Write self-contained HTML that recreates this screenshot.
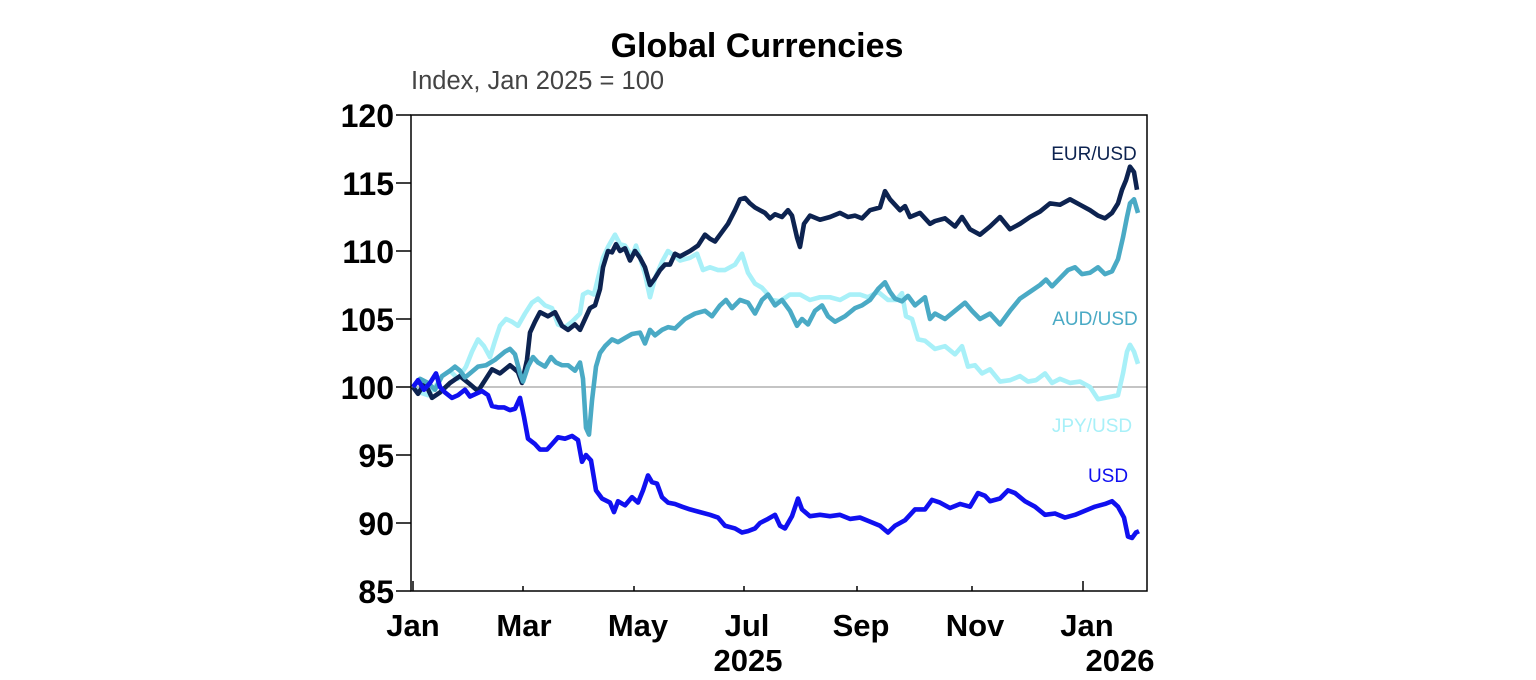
<!DOCTYPE html>
<html><head><meta charset="utf-8"><style>
html,body{margin:0;padding:0;background:#fff;}
svg{display:block;font-family:"Liberation Sans",Arial,sans-serif;}
.yl{font-size:32px;font-weight:bold;text-anchor:end;fill:#000}
.xl{font-size:31px;font-weight:bold;text-anchor:middle;fill:#000}
.s{fill:none;stroke-width:4.6;stroke-linejoin:round;vector-effect:non-scaling-stroke}
</style></head><body>
<svg width="1536" height="680" viewBox="0 0 1536 680">
<text x="757" y="57" font-size="34" font-weight="bold" text-anchor="middle">Global Currencies</text>
<text x="411" y="89" font-size="25.5" fill="#444">Index, Jan 2025 = 100</text>
<line x1="411" y1="387" x2="1147" y2="387" stroke="#888" stroke-width="1"/>
<g transform="matrix(1 0 0 -13.6 0 1747)">
<polyline class="s" stroke="#a8f0f8" points="413,100 420,99.6 428,99.4 435,100 442,100.8 450,101.2 458,100.6 466,101.5 472,102.6 478,103.5 484,103 490,102.2 495,103.4 500,104.5 506,105 512,104.8 518,104.5 525,105.4 532,106.2 538,106.5 545,106 552,105.8 558,104.6 565,104.4 572,104.8 580,105.4 583,106.8 588,107 594,106.8 598,108 603,109.5 608,110.3 615,111.2 620,110.5 625,110.4 632,109.6 636,110.4 640,109.5 645,108.3 650,106.6 655,108 662,109.2 668,110 675,109.6 680,109.3 690,109.5 697,109.8 703,108.6 710,108.8 718,108.6 725,108.6 735,109 742,109.8 748,108.4 755,107.6 762,107.3 768,106.8 772,106.4 780,106.3 790,106.8 800,106.8 810,106.4 820,106.6 830,106.6 840,106.4 850,106.8 860,106.8 868,106.6 878,107 888,106.4 896,106.4 902,106.9 906,105.2 912,105 918,103.5 925,103.4 935,102.8 945,103 955,102.4 962,103 968,101.5 975,101.6 982,101 990,101.3 1000,100.4 1010,100.5 1020,100.8 1028,100.4 1036,100.5 1045,101 1052,100.3 1060,100.6 1070,100.3 1080,100.4 1090,100 1098,99.1 1105,99.2 1112,99.3 1118,99.4 1123,101 1127,102.6 1130,103.1 1134,102.6 1138,101.7"/>
<polyline class="s" stroke="#0d2350" points="413,100 418,99.5 425,100.3 432,99.2 440,99.6 450,100.3 460,100.8 470,100.2 478,99.7 485,100.5 492,101.3 500,101 510,101.6 518,101.1 522,100.3 527,102 530,104 535,104.8 540,105.5 548,105.2 555,105.5 562,104.5 568,104.2 575,104.6 580,104.2 585,105 590,105.8 595,106 600,107.2 603,108.8 608,110 612,109.9 616,110.5 620,110 625,110.2 630,109.3 635,110 640,109.5 645,108.8 650,107.5 655,108 660,108.6 665,109 670,109 675,109.8 680,109.6 690,110 698,110.4 705,111.2 710,110.9 715,110.7 720,111.2 728,112 735,113 740,113.8 745,113.9 750,113.5 755,113.2 765,112.8 770,112.4 775,112.7 782,112.5 788,113 792,112.6 797,111 800,110.3 804,112 810,112.6 820,112.3 830,112.5 840,112.8 848,112.5 855,112.6 862,112.4 870,113 880,113.2 885,114.4 890,113.8 900,113 905,113.3 910,112.5 920,112.8 930,112 935,112.2 945,112.4 955,111.8 962,112.5 970,111.6 980,111.2 990,111.8 1000,112.5 1010,111.6 1020,112 1030,112.5 1040,112.9 1050,113.5 1060,113.4 1070,113.8 1080,113.4 1090,113 1098,112.6 1105,112.4 1112,112.8 1118,113.5 1122,114.5 1126,115.2 1130,116.2 1134,115.8 1137,114.5"/>
<polyline class="s" stroke="#4aaac5" points="413,100 420,100.6 428,100.3 435,99.8 442,100.8 450,101.2 455,101.5 460,101.2 465,100.7 470,101 478,101.5 486,101.6 495,102 505,102.6 510,102.8 515,102.4 520,101 523,100.4 528,101.5 533,102.2 538,101.8 545,101.5 551,102.2 556,101.8 562,101.6 568,101.6 575,101.2 580,101.8 583,100.6 586,97 589,96.5 592,99 596,101.5 600,102.5 605,103 612,103.5 618,103.3 625,103.6 632,103.9 640,104 645,103.2 650,104.2 655,103.8 662,104.2 668,104.4 675,104.3 685,105 695,105.4 705,105.6 712,105.2 720,106 726,106.4 732,105.8 740,106.4 748,106.2 755,105.4 762,106.4 768,106.8 775,106 782,106.4 790,105.6 797,104.5 802,105 808,104.6 815,105.6 822,106 828,105.2 835,104.8 845,105.2 855,105.8 862,106 870,106.4 878,107.2 885,107.7 890,107 895,106.5 902,106.3 908,106.7 915,106 925,106.6 930,105 935,105.4 945,105 955,105.6 965,106.2 972,105.6 980,105 990,105.4 1000,104.6 1010,105.6 1020,106.5 1030,107 1040,107.5 1046,107.9 1052,107.4 1060,108 1068,108.6 1075,108.8 1082,108.3 1090,108.4 1098,108.8 1105,108.3 1112,108.5 1118,109.4 1123,111 1127,112.5 1130,113.5 1134,113.8 1138,112.8"/>
<polyline class="s" stroke="#1010f0" points="413,100 418,100.5 424,99.8 430,100.3 436,101 440,100 445,99.6 452,99.2 458,99.4 465,99.8 470,99.3 476,99.5 482,99.7 488,99.4 492,98.6 498,98.5 504,98.5 510,98.3 515,98.4 520,99.2 524,97.8 528,96.2 535,95.8 540,95.4 547,95.4 552,95.8 558,96.3 565,96.2 572,96.4 578,96.1 582,94.5 586,95 591,94.6 596,92.4 602,91.8 610,91.5 614,90.8 618,91.6 625,91.3 632,91.9 638,91.5 643,92.4 648,93.5 652,93 657,92.9 662,91.9 668,91.5 675,91.4 682,91.2 690,91 700,90.8 710,90.6 718,90.4 725,89.8 735,89.6 742,89.3 748,89.4 755,89.6 760,90 768,90.3 775,90.6 780,89.8 785,89.6 792,90.5 798,91.8 802,91 810,90.5 820,90.6 830,90.5 840,90.6 850,90.3 860,90.4 870,90.1 880,89.8 888,89.3 895,89.8 905,90.2 915,91 925,91 932,91.7 940,91.5 950,91.1 960,91.4 970,91.2 978,92.2 985,92 990,91.6 1000,91.8 1008,92.4 1015,92.2 1025,91.6 1035,91.2 1045,90.6 1055,90.7 1065,90.4 1075,90.6 1085,90.9 1095,91.2 1105,91.4 1112,91.6 1118,91.2 1124,90.4 1128,89 1132,88.9 1136,89.3 1139,89.4"/>
</g>
<rect x="411" y="115" width="736" height="476" fill="none" stroke="#000" stroke-width="1.5"/>
<g stroke="#000" stroke-width="1.5">
<line x1="396" y1="115" x2="411" y2="115"/><line x1="396" y1="183" x2="411" y2="183"/><line x1="396" y1="251" x2="411" y2="251"/><line x1="396" y1="319" x2="411" y2="319"/><line x1="396" y1="387" x2="411" y2="387"/><line x1="396" y1="455" x2="411" y2="455"/><line x1="396" y1="523" x2="411" y2="523"/><line x1="396" y1="591" x2="411" y2="591"/>
<line x1="413" y1="591" x2="413" y2="581"/><line x1="523" y1="591" x2="523" y2="586"/><line x1="634" y1="591" x2="634" y2="586"/><line x1="744" y1="591" x2="744" y2="586"/><line x1="857" y1="591" x2="857" y2="586"/><line x1="972" y1="591" x2="972" y2="586"/><line x1="1083" y1="591" x2="1083" y2="581"/>
</g>
<text class="yl" x="394" y="127">120</text><text class="yl" x="394" y="195">115</text><text class="yl" x="394" y="263">110</text><text class="yl" x="394" y="331">105</text><text class="yl" x="394" y="399">100</text><text class="yl" x="394" y="467">95</text><text class="yl" x="394" y="535">90</text><text class="yl" x="394" y="603">85</text>
<text class="xl" x="413" y="636">Jan</text><text class="xl" x="524" y="636">Mar</text><text class="xl" x="638" y="636">May</text><text class="xl" x="747" y="636">Jul</text><text class="xl" x="861" y="636">Sep</text><text class="xl" x="975" y="636">Nov</text><text class="xl" x="1087" y="636">Jan</text>
<text class="xl" x="748" y="671">2025</text><text class="xl" x="1120" y="671">2026</text>
<text x="1094" y="160" font-size="19" fill="#0d2350" text-anchor="middle">EUR/USD</text>
<text x="1095" y="325" font-size="19" fill="#4aaac5" text-anchor="middle">AUD/USD</text>
<text x="1092" y="432" font-size="19" fill="#a8f0f8" text-anchor="middle">JPY/USD</text>
<text x="1108" y="482" font-size="19" fill="#1010f0" text-anchor="middle">USD</text>
</svg>
</body></html>
